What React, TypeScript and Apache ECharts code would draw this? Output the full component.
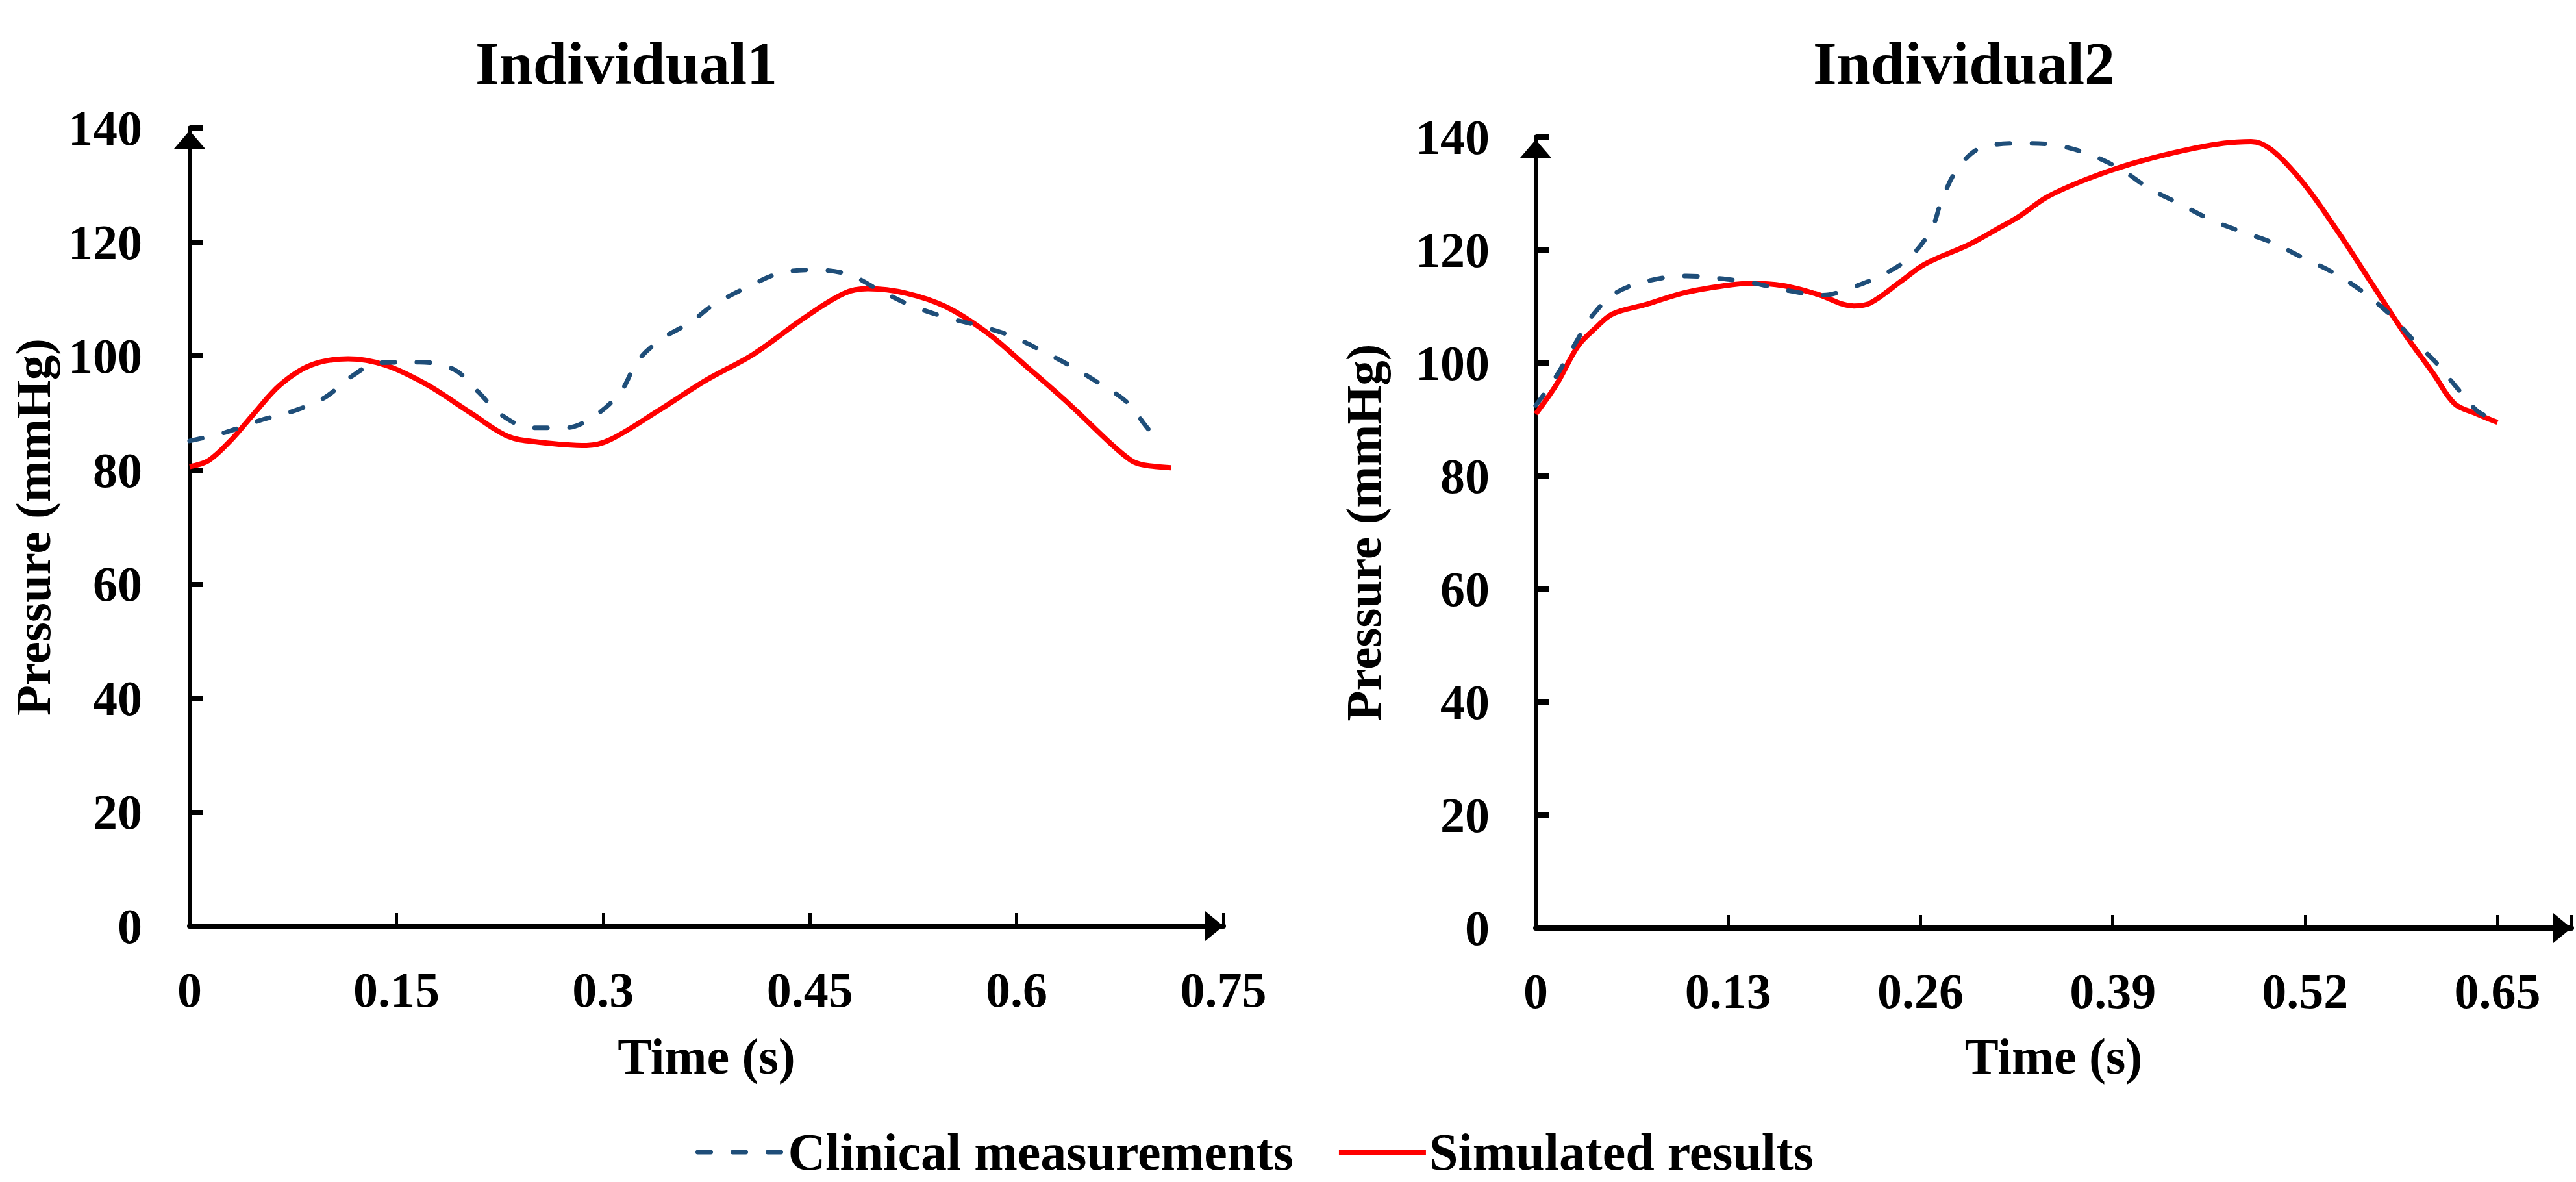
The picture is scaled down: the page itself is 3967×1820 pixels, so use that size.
import React, { useEffect, useRef } from 'react';
import * as echarts from 'echarts';

// ---------- Individual 1 ----------
const ind1ClinicalTime = [0, 0.026, 0.051, 0.076, 0.098, 0.118, 0.137, 0.167, 0.192, 0.209, 0.226, 0.248, 0.273, 0.295, 0.313, 0.325, 0.342, 0.364, 0.379, 0.404, 0.428, 0.453, 0.478, 0.5, 0.522, 0.547, 0.571, 0.594, 0.616, 0.638, 0.658, 0.68, 0.697, 0.706];
const ind1ClinicalPressure = [85.1, 86.6, 88.7, 90.4, 92.7, 96.5, 98.8, 98.9, 97.6, 93.8, 89.7, 87.4, 87.4, 89.7, 93.8, 99.1, 102.9, 106, 108.8, 112, 114.5, 115.1, 114.3, 111.6, 109, 106.9, 105.4, 103.7, 101.2, 98.4, 95.5, 91.9, 86.8, 85.4];

const ind1SimTime = [0, 0.014, 0.031, 0.046, 0.066, 0.088, 0.115, 0.142, 0.172, 0.204, 0.231, 0.253, 0.288, 0.305, 0.34, 0.375, 0.409, 0.446, 0.475, 0.492, 0.52, 0.549, 0.579, 0.606, 0.638, 0.668, 0.683, 0.692, 0.712];
const ind1SimPressure = [80.6, 81.7, 85.5, 89.7, 95, 98.4, 99.5, 98.4, 95, 90, 85.9, 84.9, 84.3, 85.3, 90.4, 95.8, 100.3, 106.7, 111, 111.8, 111, 108.6, 104, 98.4, 91.6, 84.7, 81.7, 80.9, 80.4];

// ---------- Individual 2 ----------
const ind2ClinicalTime = [0, 0.013, 0.0275, 0.038, 0.054, 0.077, 0.102, 0.123, 0.144, 0.171, 0.194, 0.213, 0.236, 0.254, 0.268, 0.2746, 0.286, 0.302, 0.33, 0.3527, 0.3755, 0.396, 0.4146, 0.435, 0.456, 0.4765, 0.497, 0.518, 0.539, 0.559, 0.578, 0.594, 0.608, 0.623, 0.636, 0.645];
const ind2ClinicalPressure = [92.5, 97.3, 103.8, 108.3, 112.4, 114.6, 115.4, 115, 114.3, 112.8, 112, 113.3, 115.8, 119, 124, 129, 134.7, 138.2, 138.9, 138.5, 136.8, 134.2, 130.9, 128.2, 125.4, 123.3, 121.4, 118.7, 116, 112.6, 108.4, 103.8, 100.2, 95.5, 91.6, 90.3];

const ind2SimTime = [0, 0.014, 0.0285, 0.04, 0.052, 0.075, 0.1, 0.128, 0.146, 0.167, 0.19, 0.215, 0.226, 0.247, 0.263, 0.293, 0.311, 0.327, 0.3457, 0.373, 0.403, 0.4376, 0.465, 0.4835, 0.497, 0.518, 0.541, 0.564, 0.587, 0.607, 0.621, 0.636, 0.65];
const ind2SimPressure = [91, 96.2, 103, 106.1, 108.7, 110.4, 112.4, 113.7, 114.1, 113.7, 112.2, 110.1, 110.6, 114.5, 117.5, 121, 123.6, 126, 129.4, 132.6, 135.3, 137.6, 138.9, 139.2, 137.8, 132.1, 123.7, 114.5, 105.3, 98, 92.8, 91, 89.5];

// ---------- Axes / labels ----------
const ind1XTicks = [0, 0.15, 0.3, 0.45, 0.6, 0.75];
const ind1XMax = 0.75;
const ind2XTicks = [0, 0.13, 0.26, 0.39, 0.52, 0.65];
const ind2XMax = 0.7;
const yTicks = [0, 20, 40, 60, 80, 100, 120, 140];

const titles = ['Individual1', 'Individual2'];
const seriesNames = ['Clinical measurements', 'Simulated results'];
const xName = 'Time (s)';
const yName = 'Pressure (mmHg)';

const FONT = "'Liberation Serif', 'Times New Roman', serif";
const BLUE = '#1F4E79';
const RED = '#FF0000';

const zip = (t: number[], p: number[]) => t.map((v, i) => [v, p[i]]);

function makeX(gridIndex: number, ticks: number[], max: number, nameGap: number, margin: number) {
  const interval = ticks[1] - ticks[0];
  const lastTick = ticks[ticks.length - 1];
  return {
    type: 'value',
    gridIndex,
    min: ticks[0],
    max,
    interval,
    name: xName,
    nameLocation: 'middle',
    nameGap,
    nameTextStyle: { fontFamily: FONT, fontWeight: 'bold', fontSize: 78, color: '#000' },
    axisLine: {
      show: true,
      onZero: false,
      lineStyle: { color: '#000', width: 8 },
      symbol: ['none', 'triangle'],
      symbolSize: [46, 28],
      symbolOffset: [0, -14],
    },
    axisTick: { show: true, inside: true, length: 20, lineStyle: { color: '#000', width: 5 } },
    axisLabel: {
      margin,
      fontFamily: FONT,
      fontWeight: 'bold',
      fontSize: 76,
      color: '#000',
      formatter: (v: number) => (v > lastTick + 1e-9 ? '' : String(+v.toFixed(2))),
    },
    splitLine: { show: false },
  };
}

function makeY(gridIndex: number, nameGap: number, margin: number) {
  return {
    type: 'value',
    gridIndex,
    min: yTicks[0],
    max: yTicks[yTicks.length - 1],
    interval: yTicks[1] - yTicks[0],
    name: yName,
    nameLocation: 'middle',
    nameGap,
    nameTextStyle: { fontFamily: FONT, fontWeight: 'bold', fontSize: 77, lineHeight: 70, color: '#000' },
    axisLine: {
      show: true,
      onZero: false,
      lineStyle: { color: '#000', width: 7 },
      symbol: ['none', 'triangle'],
      symbolSize: [48, 28],
      symbolOffset: [0, -18],
    },
    axisTick: { show: true, inside: true, length: 20, lineStyle: { color: '#000', width: 8 } },
    axisLabel: { margin, fontFamily: FONT, fontWeight: 'bold', fontSize: 76, color: '#000' },
    splitLine: { show: false },
  };
}

const clinicalLine = { color: BLUE, width: 7, type: [20, 34], cap: 'round' };
const simulatedLine = { color: RED, width: 8 };

function lineSeries(name: string, idx: number, data: number[][], clinical: boolean) {
  return {
    type: 'line',
    name,
    xAxisIndex: idx,
    yAxisIndex: idx,
    data,
    smooth: 0.35,
    symbol: 'none',
    showSymbol: false,
    lineStyle: clinical ? clinicalLine : simulatedLine,
    itemStyle: { color: clinical ? BLUE : RED },
    z: clinical ? 3 : 2,
  };
}

export default function App() {
  const ref = useRef<HTMLDivElement>(null);
  useEffect(() => {
    if (!ref.current) return;
    const chart = echarts.init(ref.current, undefined, { renderer: 'svg' });
    const titleStyle = { fontFamily: FONT, fontWeight: 'bold', fontSize: 94, color: '#000' };
    const hiddenSymbol = { opacity: 0, borderWidth: 0, color: 'rgba(0,0,0,0)' };
    chart.setOption({
      animation: false,
      backgroundColor: '#ffffff',
      title: [
        { text: titles[0], left: 732, top: 50, padding: 0, textStyle: titleStyle },
        { text: titles[1], left: 2792, top: 50, padding: 0, textStyle: titleStyle },
      ],
      legend: {
        left: 1071,
        top: 1734,
        padding: 0,
        itemWidth: 134,
        itemHeight: 30,
        itemGap: 66,
        textStyle: { fontFamily: FONT, fontWeight: 'bold', fontSize: 80, color: '#000' },
        data: [
          { name: seriesNames[0], itemStyle: hiddenSymbol, lineStyle: clinicalLine },
          { name: seriesNames[1], itemStyle: hiddenSymbol, lineStyle: simulatedLine },
        ],
      },
      grid: [
        { left: 292, top: 197, width: 1592, height: 1229, outerBoundsMode: 'none' },
        { left: 2365, top: 211, width: 1595, height: 1218, outerBoundsMode: 'none' },
      ],
      xAxis: [makeX(0, ind1XTicks, ind1XMax, 161, 60), makeX(1, ind2XTicks, ind2XMax, 158, 59)],
      yAxis: [makeY(0, 206, 73), makeY(1, 230, 71)],
      series: [
        lineSeries(seriesNames[0], 0, zip(ind1ClinicalTime, ind1ClinicalPressure), true),
        lineSeries(seriesNames[1], 0, zip(ind1SimTime, ind1SimPressure), false),
        lineSeries(seriesNames[0], 1, zip(ind2ClinicalTime, ind2ClinicalPressure), true),
        lineSeries(seriesNames[1], 1, zip(ind2SimTime, ind2SimPressure), false),
      ],
    });
    return () => chart.dispose();
  }, []);
  return (
    <div
      ref={ref}
      style={{ position: 'absolute', left: 0, top: 0, width: 3967, height: 1820, background: '#fff' }}
    />
  );
}
